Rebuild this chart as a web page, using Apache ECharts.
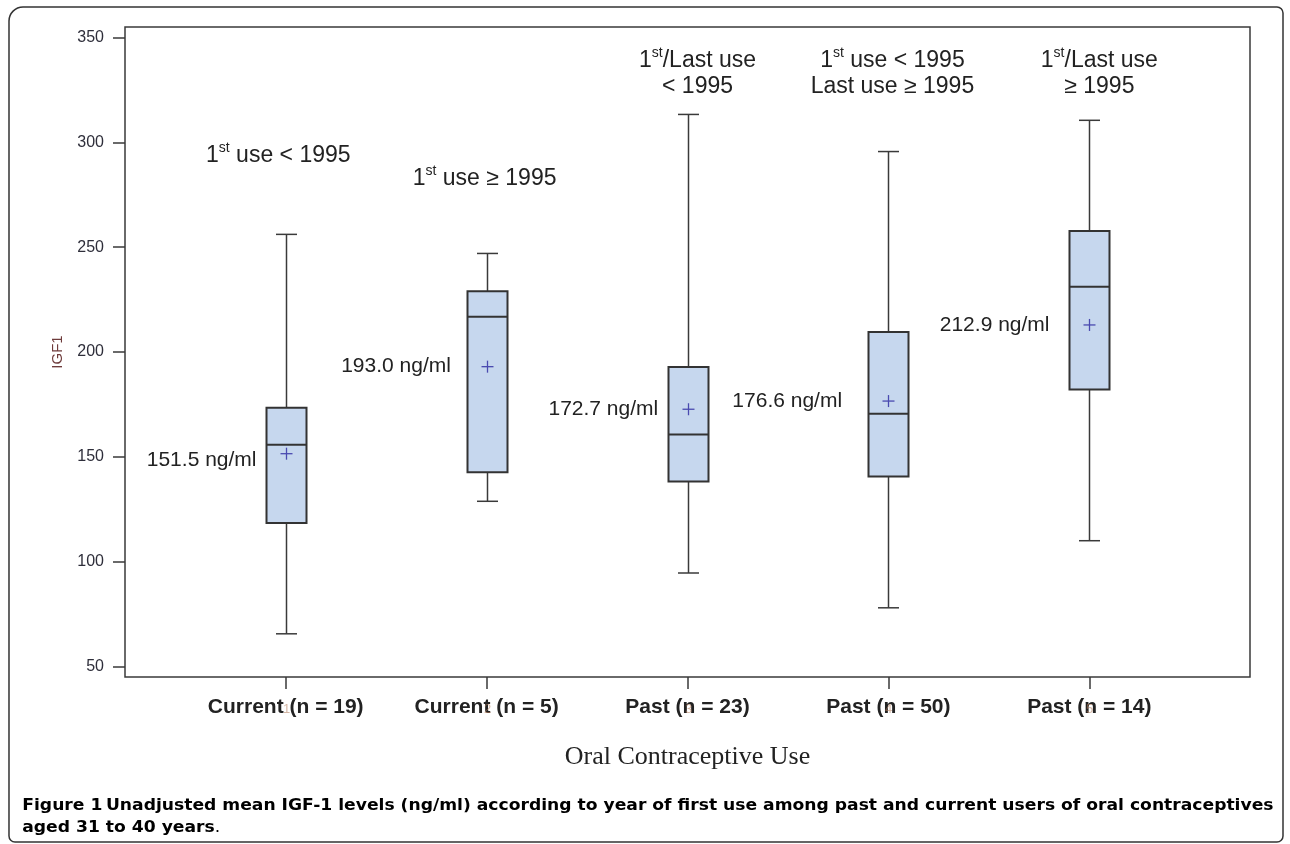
<!DOCTYPE html>
<html><head><meta charset="utf-8">
<script src="https://cdn.jsdelivr.net/npm/echarts@6/dist/echarts.min.js"></script>
<style>html,body{margin:0;padding:0;background:#fff}#c{width:1290px;height:844px}</style>
</head><body><div id="c"></div>
<script>
// ---- data ----
const categories = ['Current (n = 19)', 'Current (n = 5)', 'Past (n = 23)', 'Past (n = 50)', 'Past (n = 14)'];
const positions = [1, 2, 3, 4, 5];
const whiskerLow = [65.6, 128.8, 94.6, 78.0, 110.0];
const q1 = [118.5, 142.6, 138.2, 140.6, 182.1];
const median = [155.8, 216.8, 160.7, 170.5, 231.1];
const q3 = [173.4, 229.0, 192.8, 209.5, 257.7];
const whiskerHigh = [256.1, 247.0, 313.3, 295.6, 310.5];
const means = [151.5, 193.0, 172.7, 176.6, 212.9];
const yTicks = [50, 100, 150, 200, 250, 300, 350];
const groupNotes = [
  '{n|1}{s|st}{n| use < 1995}',
  '{n|1}{s|st}{n| use ≥ 1995}',
  '{n|1}{s|st}{n|/Last use}\n{n|< 1995}',
  '{n|1}{s|st}{n| use < 1995}\n{n|Last use ≥ 1995}',
  '{n|1}{s|st}{n|/Last use}\n{n|≥ 1995}'
];

// ---- layout helpers (not data) ----
const meanLabelGap = [30, 36.6, 30.3, 46.4, 40];
const meanLabelDy = [7, 0, 0, 0, 0];
const notePos = [[0.963, 294.3], [1.99, 283.3], [3.05, 333.4], [4.02, 333.4], [5.05, 333.4]];

const chart = echarts.init(document.getElementById('c'));
const FONT = 'Liberation Sans, Arial, sans-serif';

const boxData = positions.map((p, i) => [p, whiskerLow[i], q1[i], median[i], q3[i], whiskerHigh[i], means[i], i]);

const option = {
  animation: false,
  backgroundColor: '#fff',
  grid: { left: 125, right: 40, top: 27, bottom: 167, show: true, borderColor: '#3a3a3a', borderWidth: 1.5, backgroundColor: 'transparent' },
  xAxis: {
    type: 'value', min: 0.2, max: 5.8,
    axisLine: { show: false },
    splitLine: { show: false },
    axisTick: { show: true, length: 12, lineStyle: { color: '#3a3a3a', width: 1.5 }, customValues: positions },
    axisLabel: {
      customValues: positions, margin: 20,
      formatter: v => categories[Math.round(v) - 1] || '',
      fontFamily: FONT, fontWeight: 'bold', fontSize: 21, color: '#222'
    },
    name: 'Oral Contraceptive Use', nameLocation: 'middle', nameGap: 67,
    nameTextStyle: { fontFamily: 'Liberation Serif, Times New Roman, serif', fontSize: 26, color: '#222' }
  },
  yAxis: {
    type: 'value', min: 45, max: 355,
    axisLine: { show: false },
    splitLine: { show: false },
    axisTick: { show: true, length: 12, lineStyle: { color: '#3a3a3a', width: 1.5 }, customValues: yTicks },
    axisLabel: { customValues: yTicks, margin: 21, fontFamily: FONT, fontSize: 16, color: '#2e2e3a' },
    name: 'IGF1', nameLocation: 'middle', nameGap: 60, nameRotate: 90,
    nameTextStyle: { fontFamily: FONT, fontSize: 15, color: '#6e3b3b' }
  },
  series: [
    {
      type: 'custom',
      data: boxData,
      encode: { x: 0, y: [1, 5] },
      renderItem: function (params, api) {
        const x = api.value(0);
        const idx = api.value(7);
        const pLo = api.coord([x, api.value(1)]);
        const pQ1 = api.coord([x, api.value(2)]);
        const pMed = api.coord([x, api.value(3)]);
        const pQ3 = api.coord([x, api.value(4)]);
        const pHi = api.coord([x, api.value(5)]);
        const pMean = api.coord([x, api.value(6)]);
        const pBase = api.coord([x, 45]);
        const cx = Math.round(pLo[0]) + 0.5;
        const hw = 20, cw = 10.5, pw = 6;
        const ln = (x1, y1, x2, y2, w, c) => ({ type: 'line', shape: { x1, y1, x2, y2 }, style: { stroke: c || '#3a3a3a', lineWidth: w || 1.5 } });
        return {
          type: 'group',
          children: [
            ln(cx, pHi[1], cx, pQ3[1]),
            ln(cx, pQ1[1], cx, pLo[1]),
            ln(cx - cw, pHi[1], cx + cw, pHi[1]),
            ln(cx - cw, pLo[1], cx + cw, pLo[1]),
            { type: 'rect', shape: { x: cx - hw, y: pQ3[1], width: 2 * hw, height: pQ1[1] - pQ3[1] },
              style: { fill: '#c6d7ee', stroke: '#333', lineWidth: 2 } },
            ln(cx - hw, pMed[1], cx + hw, pMed[1], 2, '#333'),
            ln(cx - pw, pMean[1], cx + pw, pMean[1], 1.3, '#4a4ab0'),
            ln(cx, pMean[1] - pw, cx, pMean[1] + pw, 1.3, '#4a4ab0'),
            { type: 'text', x: cx - meanLabelGap[idx], y: pMean[1] + meanLabelDy[idx],
              style: { text: api.value(6).toFixed(1) + ' ng/ml', fontFamily: FONT, fontSize: 21, fill: '#222', align: 'right', verticalAlign: 'middle' } },
            { type: 'text', x: cx, y: pBase[1] + 32, z2: 5,
              style: { text: String(idx + 1), fontFamily: FONT, fontSize: 13, fill: '#b07a5a', opacity: 0.55, align: 'center', verticalAlign: 'middle' } }
          ]
        };
      }
    },
    {
      type: 'custom',
      data: notePos.map((p, i) => [p[0], p[1], i]),
      encode: { x: 0, y: 1 },
      renderItem: function (params, api) {
        const p = api.coord([api.value(0), api.value(1)]);
        const idx = api.value(2);
        return {
          type: 'text', x: p[0], y: p[1],
          style: {
            text: groupNotes[idx], align: 'center', verticalAlign: 'middle',
            fontFamily: FONT, fontSize: 23, fill: '#222',
            rich: {
              n: { fontFamily: FONT, fontSize: 23, color: '#222', lineHeight: 26, verticalAlign: 'bottom' },
              s: { fontFamily: FONT, fontSize: 14, color: '#222', lineHeight: 26, verticalAlign: 'top' }
            }
          }
        };
      }
    }
  ],
  graphic: [
    { type: 'rect', shape: { x: 9, y: 7, width: 1274, height: 835, r: [14, 6, 6, 6] },
      style: { fill: 'none', stroke: '#333', lineWidth: 1.5 }, z: 10 },
    { type: 'text', x: 24, y: 806, z: 10, scaleX: 1.072, originX: 24,
      style: { text: '{b|Figure 1} {m|Unadjusted mean IGF-1 levels (ng/ml) according to year of first use among past and current users of oral contraceptives}',
        verticalAlign: 'middle',
        rich: { b: { fontFamily: 'DejaVu Sans', fontWeight: 'bold', fontSize: 16, color: '#1d6496' },
                m: { fontFamily: 'DejaVu Sans', fontWeight: 'bold', fontSize: 16, color: '#1f4f73' } } } },
    { type: 'text', x: 24, y: 828, z: 10, scaleX: 1.072, originX: 24,
      style: { text: '{m|aged 31 to 40 years}{r|.}', verticalAlign: 'middle',
        rich: { m: { fontFamily: 'DejaVu Sans', fontWeight: 'bold', fontSize: 16, color: '#1f4f73' },
                r: { fontFamily: 'DejaVu Sans', fontSize: 16, color: '#1f4f73' } } } }
  ]
};
chart.setOption(option);
</script>
</body></html>
